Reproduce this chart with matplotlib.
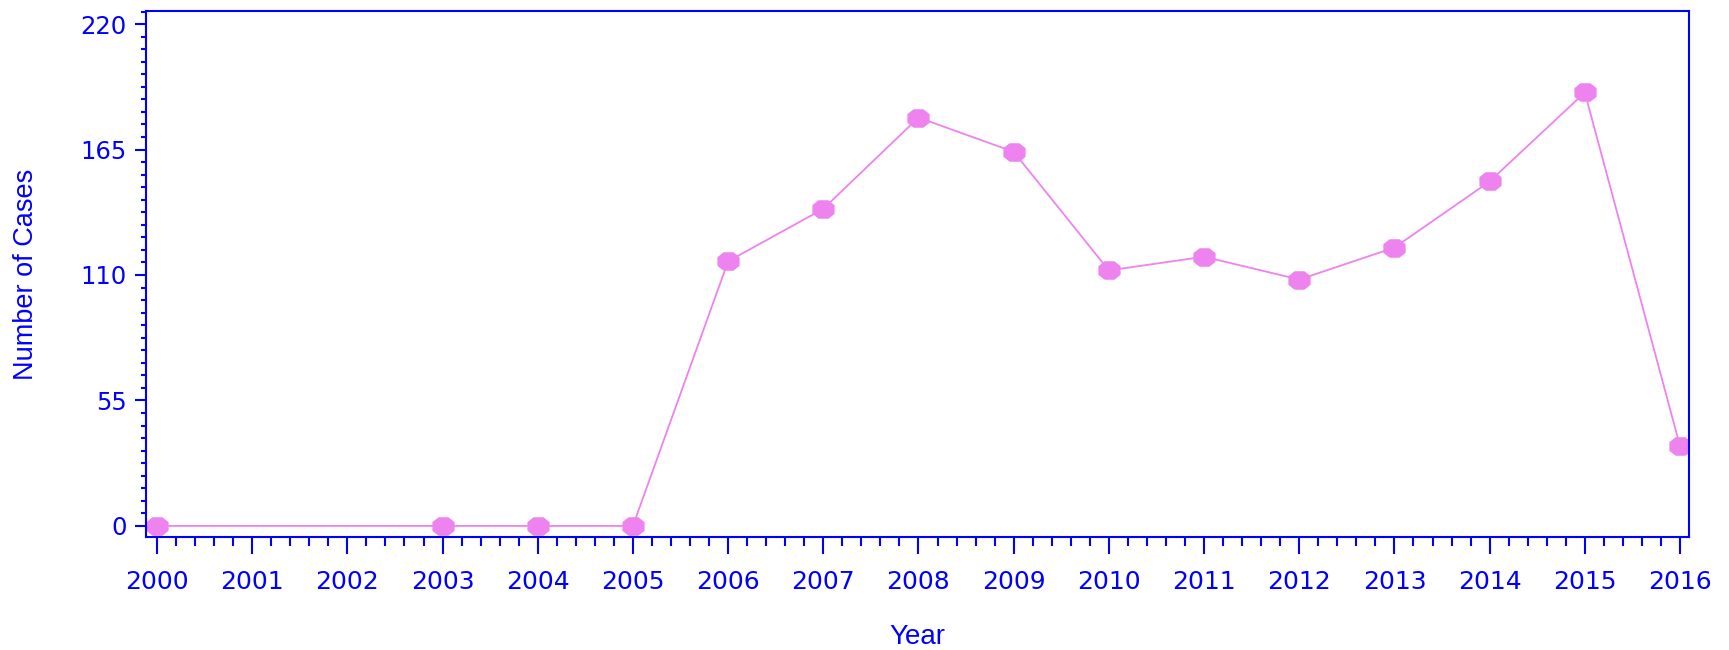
import matplotlib
matplotlib.use("Agg")
import matplotlib.pyplot as plt
from matplotlib.ticker import MultipleLocator

# yearly case counts (2001 and 2002 have no data)
years = [2000, 2003, 2004, 2005, 2006, 2007, 2008, 2009, 2010, 2011, 2012, 2013, 2014, 2015, 2016]
cases = [0, 0, 0, 0, 116, 139, 179, 164, 112, 118, 108, 122, 151, 190, 35]
year_ticks = list(range(2000, 2017))
case_ticks = [0, 55, 110, 165, 220]

blue = "#0000FF"
pink = "#EE82EE"

# slightly flattened octagon, like the SAS dot symbol
dot = [(-0.45, -0.82), (0.45, -0.82), (1, -0.38), (1, 0.38),
       (0.45, 0.82), (-0.45, 0.82), (-1, 0.38), (-1, -0.38), (-0.45, -0.82)]

fig = plt.figure(figsize=(17.29, 6.5), dpi=100)
ax = fig.add_axes([0.0844, 0.174, 0.8925, 0.809])

ax.plot(years, cases, color=pink, linewidth=1.3, marker=dot,
        markersize=15, markerfacecolor=pink, markeredgecolor=pink)

ax.set_xlim(1999.884, 2016.095)
ax.set_ylim(-4.82, 225.7)

ax.set_xticks(year_ticks)
ax.set_xticklabels([str(y) for y in year_ticks])
ax.xaxis.set_minor_locator(MultipleLocator(0.2))
ax.set_yticks(case_ticks)
ax.yaxis.set_minor_locator(MultipleLocator(5.5))

for side in ax.spines.values():
    side.set_color(blue)
    side.set_linewidth(1.5)

ax.tick_params(axis="x", which="major", length=12, width=1.5, color=blue,
               labelcolor=blue, labelsize=18, pad=12)
ax.tick_params(axis="x", which="minor", length=6.5, width=1.5, color=blue)
ax.tick_params(axis="y", which="major", length=8, width=1.5, color=blue,
               labelcolor=blue, labelsize=17.5, pad=6)
ax.tick_params(axis="y", which="minor", length=3.5, width=1.5, color=blue)

for lab in ax.get_xticklabels() + ax.get_yticklabels():
    lab.set_family("DejaVu Sans")

ax.set_xlabel("Year", color=blue, fontsize=20, family="Liberation Sans", va="center")
ax.xaxis.set_label_coords(0.5, -0.19)
ax.set_ylabel("Number of Cases", color=blue, fontsize=19.5, family="Liberation Sans", va="center")
ax.yaxis.set_label_coords(-0.078, 0.5)

fig.savefig("out.png", dpi=100)
